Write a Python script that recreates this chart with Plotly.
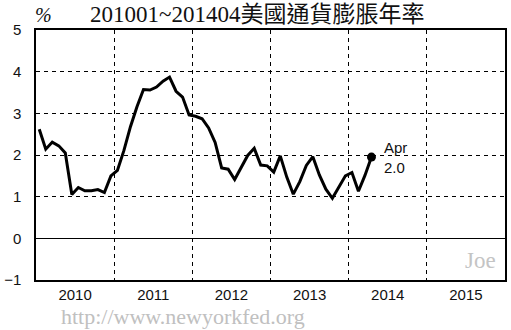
import plotly.graph_objects as go

months = [f"{y}-{m:02d}" for y in range(2010, 2015) for m in range(1, 13)][:52]
cpi_yoy = [
    2.62, 2.14, 2.31, 2.22, 2.05, 1.05, 1.22, 1.14, 1.14, 1.17, 1.10, 1.50,
    1.63, 2.11, 2.68, 3.16, 3.57, 3.56, 3.63, 3.77, 3.87, 3.53, 3.39, 2.96,
    2.93, 2.87, 2.65, 2.30, 1.69, 1.66, 1.41, 1.69, 1.99, 2.16, 1.76, 1.74,
    1.59, 1.98, 1.47, 1.06, 1.36, 1.75, 1.96, 1.52, 1.18, 0.96, 1.24, 1.50,
    1.58, 1.13, 1.51, 1.95,
]
year_labels = ["2010", "2011", "2012", "2013", "2014", "2015"]
y_ticks = [-1, 0, 1, 2, 3, 4, 5]
title_text = "201001~201404美國通貨膨脹年率"
last_label = "Apr<br>2.0"

# decimal-year positions at mid-month
xs = [int(s[:4]) + (int(s[5:]) - 0.5) / 12 for s in months]

fig = go.Figure()
fig.add_trace(go.Scatter(x=xs, y=cpi_yoy, mode="lines",
                         line=dict(color="black", width=3), hoverinfo="skip"))
fig.add_trace(go.Scatter(x=[xs[-1]], y=[cpi_yoy[-1]], mode="markers",
                         marker=dict(color="black", size=9), hoverinfo="skip"))

fig.add_annotation(x=xs[-1], y=cpi_yoy[-1], text=last_label, showarrow=False,
                   xanchor="left", yanchor="middle", xshift=11, align="left",
                   font=dict(family="Liberation Sans, Arial", size=15, color="#111"))

fig.update_layout(
    width=511, height=330,
    margin=dict(l=34, r=4, t=30, b=50),
    plot_bgcolor="white", paper_bgcolor="white",
    showlegend=False,
    font=dict(family="Liberation Sans, Arial", size=15, color="#111"),
)
fig.update_xaxes(
    range=[2010, 2016],
    tickvals=[2010.5 + i for i in range(6)], ticktext=year_labels,
    showgrid=False, ticks="", ticklabelstandoff=0,
    showline=True, linecolor="black", linewidth=1.5, mirror=True,
    zeroline=False,
    minor=dict(tickvals=[2011, 2012, 2013, 2014, 2015], showgrid=True,
               gridcolor="black", gridwidth=1, griddash="4px,4px", ticks=""),
)
fig.update_yaxes(
    range=[-1, 5], tickvals=y_ticks,
    showgrid=True, gridcolor="black", gridwidth=1, griddash="4px,4px",
    zeroline=True, zerolinecolor="black", zerolinewidth=1.2,
    showline=True, linecolor="black", linewidth=1.5, mirror=True,
    ticks="", ticklabelstandoff=10,
)

fig.add_annotation(x=0.5, y=1.0, xref="paper", yref="paper", yanchor="bottom",
                   xshift=-14, yshift=1, showarrow=False, text=title_text,
                   font=dict(family="Liberation Serif, Noto Sans CJK TC", size=23, color="#111"))
fig.add_annotation(x=0, y=1.0, xref="paper", yref="paper", xanchor="left", yanchor="bottom",
                   xshift=-3, yshift=2, showarrow=False, text="<i>%</i>",
                   font=dict(family="Liberation Serif", size=20, color="#111"))
fig.add_annotation(x=0.985, y=0.02, xref="paper", yref="paper", xanchor="right", yanchor="bottom",
                   showarrow=False, text="Joe",
                   font=dict(family="Liberation Serif", size=23, color="#c4c4c4"))
fig.add_annotation(x=0.05, y=0, xref="paper", yref="paper", xanchor="left", yanchor="top",
                   yshift=-22, showarrow=False, text="http://www.newyorkfed.org",
                   font=dict(family="Liberation Serif", size=22, color="#c0c0c0"))

fig.write_html("out.html")
